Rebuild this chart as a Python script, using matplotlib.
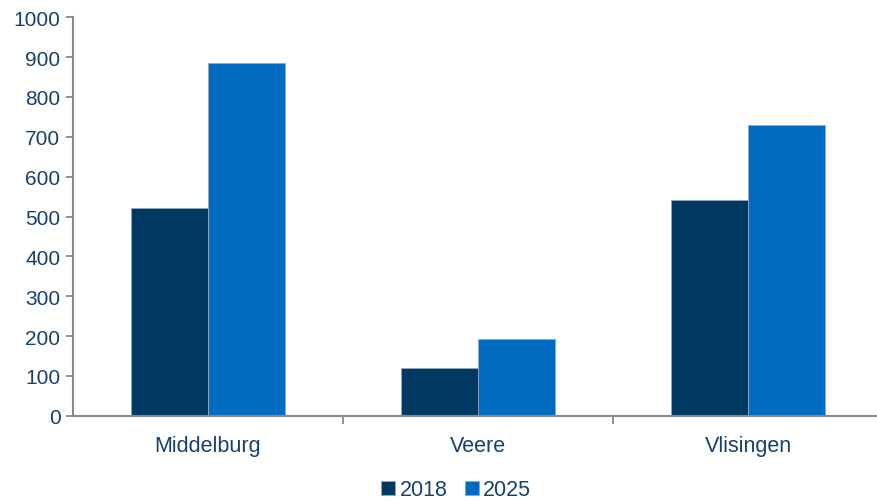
import numpy as np
import matplotlib.pyplot as plt

# Data
categories = ['Middelburg', 'Veere', 'Vlisingen']
years = ['2018', '2025']
values_2018 = [521, 119, 541]
values_2025 = [885, 192, 729]

colors = ['#003A63', '#006BC0']
text_color = '#17406D'
axis_color = '#898989'

plt.rcParams['font.family'] = ['Liberation Sans', 'DejaVu Sans']

fig = plt.figure(figsize=(8.77, 5.02), dpi=100)
ax = fig.add_axes([73 / 877, 85.3 / 502, 810 / 877, 398.4 / 502])

x = np.arange(len(categories))
width = 0.286
ax.bar(x - width / 2, values_2018, width, color=colors[0], label=years[0],
       edgecolor='#8fa9c4', linewidth=0.6)
ax.bar(x + width / 2, values_2025, width, color=colors[1], label=years[1],
       edgecolor='#8fa9c4', linewidth=0.6)

ax.set_xlim(-0.5, 2.5)
ax.set_ylim(0, 1000)
ax.set_yticks(np.arange(0, 1001, 100))

# category labels centred, ticks on the boundaries
ax.set_xticks([0.5, 1.5, 2.5])
ax.set_xticklabels([])
ax.set_xticks(x, minor=True)
ax.set_xticklabels(categories, minor=True)
ax.tick_params(axis='x', which='minor', length=0, pad=14, labelsize=15.5, labelcolor=text_color)
ax.tick_params(axis='x', which='major', length=6, width=1.3, color=axis_color)
ax.tick_params(axis='y', length=5, width=1.3, color=axis_color, labelsize=15,
               labelcolor=text_color, pad=4)

for side in ['top', 'right']:
    ax.spines[side].set_visible(False)
for side in ['left', 'bottom']:
    ax.spines[side].set_color(axis_color)
    ax.spines[side].set_linewidth(1.5)

leg = fig.legend(loc='center', bbox_to_anchor=(456 / 877, 1 - 491 / 502), ncol=2,
                 frameon=False, fontsize=15.5, handlelength=0.65, handleheight=0.65,
                 handletextpad=0.2, columnspacing=0.8, labelcolor=text_color)

fig.savefig('out.png', dpi=100)
